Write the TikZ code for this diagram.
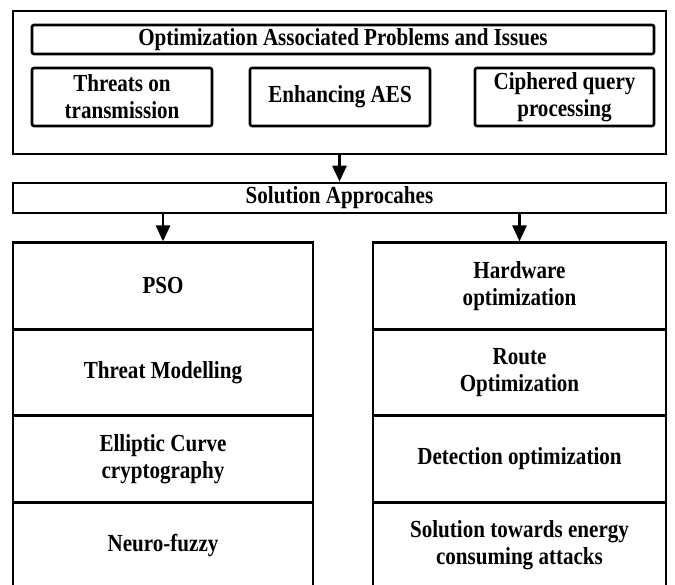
\documentclass[tikz,border=0pt]{standalone}
\usepackage{fontspec}
\setmainfont{Liberation Serif}[FakeStretch=0.86]
\usetikzlibrary{arrows.meta}
\begin{document}
\begin{tikzpicture}[x=1pt,y=-1pt]
\tikzstyle{every node}+=[inner sep=0pt, align=center, font=\fontsize{24.5}{27}\selectfont\bfseries]
\tikzstyle{box}=[draw=black, line width=2.6pt]
\tikzstyle{subbox}=[box, rounded corners=2pt, minimum width=180pt, minimum height=58pt]
\tikzstyle{leftrow}=[box, minimum width=300pt, minimum height=86.5pt]
\tikzstyle{rightrow}=[box, minimum width=293pt, minimum height=86.5pt]
\tikzstyle{flow}=[draw=black, line width=2.6pt, -{Triangle[length=16pt,width=14pt]}]
\useasboundingbox (0,0) rectangle (675,585);
\clip (0,0) rectangle (675,585);
\node [box, minimum width=653pt, minimum height=143pt] (outer) at (339.5,82.5) {};
\node [box, rounded corners=2pt, minimum width=622pt, minimum height=29pt] (issues) at (343,39.5) {Optimization Associated Problems and Issues};
\node [subbox] (threats) at (122,97) {Threats on\\transmission};
\node [subbox] (aes) at (340,97) {Enhancing AES};
\node [subbox, minimum width=179pt] (ciphered) at (564.5,97) {Ciphered query\\processing};
\node [box, minimum width=653pt, minimum height=30pt] (solution) at (339.5,198) {Solution Approcahes};
\node [leftrow] (pso) at (163,286) {PSO};
\node [leftrow] (threat) at (163,372.5) {Threat Modelling};
\node [leftrow] (ecc) at (163,459) {Elliptic Curve\\cryptography};
\node [leftrow] (neuro) at (163,545.5) {Neuro-fuzzy};
\node [rightrow] (hardware) at (519.5,286) {Hardware\\optimization};
\node [rightrow] (route) at (519.5,372.5) {Route\\Optimization};
\node [rightrow] (detection) at (519.5,459) {Detection optimization};
\node [rightrow] (energy) at (519.5,545.5) {Solution towards energy\\consuming attacks};
\draw [flow] (outer.south) -- (solution.north);
\draw [flow] (solution.south -| pso.north) -- (pso.north);
\draw [flow] (solution.south -| hardware.north) -- (hardware.north);
\end{tikzpicture}
\end{document}
